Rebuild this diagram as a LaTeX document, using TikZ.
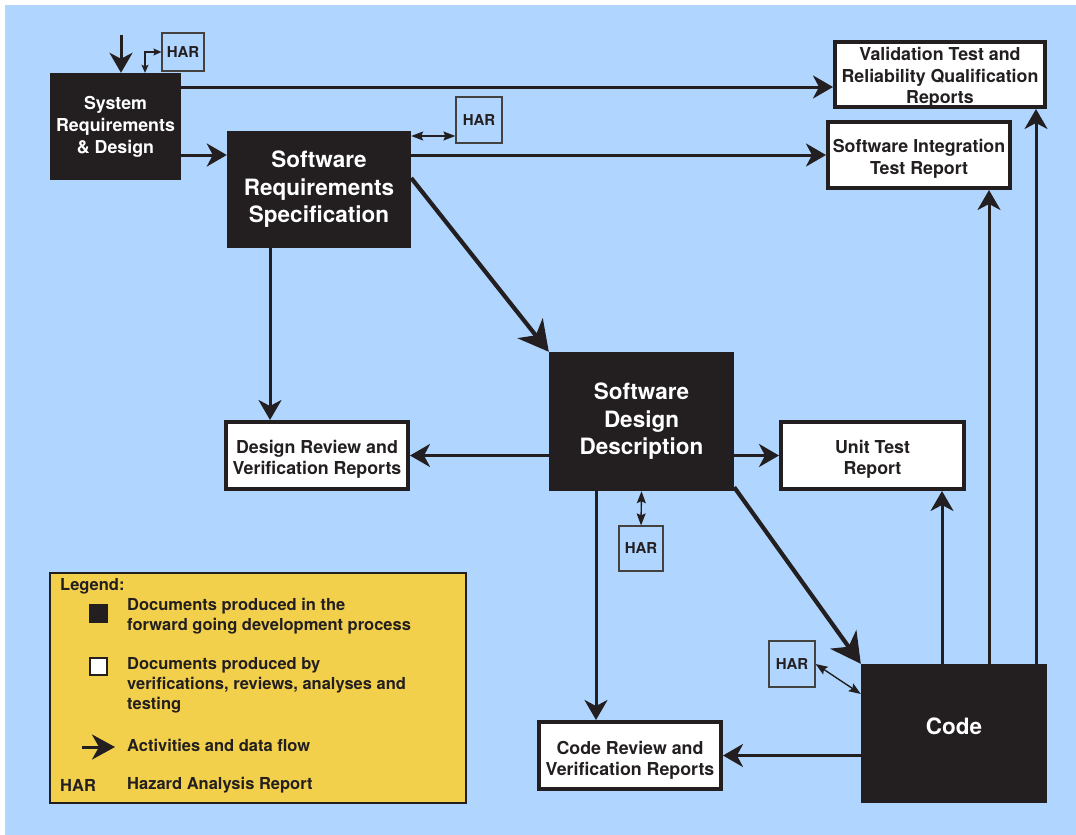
\documentclass[tikz,border=0pt]{standalone}
\usepackage{fontspec}
\setmainfont{TeX Gyre Heros}
\usetikzlibrary{arrows.meta}
\definecolor{sky}{RGB}{176,214,255}
\definecolor{ink}{RGB}{35,31,32}
\definecolor{legendfill}{RGB}{242,208,76}

\begin{document}
\begin{tikzpicture}[x=1pt,y=-1pt,
  docfwd/.style={fill=ink, draw=none, text=white, align=center, inner sep=0pt},
  fwdsmall/.style={docfwd, font=\fontsize{17.8}{22}\selectfont\bfseries},
  fwdbig/.style={docfwd, font=\fontsize{22.5}{27.5}\selectfont\bfseries},
  fwdlabel/.style={text=white, align=center, inner sep=0pt, font=\fontsize{22.5}{27.5}\selectfont\bfseries},
  docver/.style={fill=white, draw=ink, line width=4pt, inner sep=0pt},
  vertext/.style={text=ink, align=center, inner sep=0pt, font=\fontsize{17.8}{21.5}\selectfont\bfseries},
  harbox/.style={draw=ink!85, line width=1.2pt, text=ink, inner sep=0pt,
    font=\fontsize{15}{15}\selectfont\bfseries},
  flow/.style={draw=ink, line width=3pt, -{Stealth[length=20pt,width=23pt,inset=6pt]}},
  bigflow/.style={draw=ink, line width=4.2pt, -{Stealth[length=30pt,width=32pt,inset=9pt]}},
  harlink/.style={draw=ink, line width=1.4pt,
    {Stealth[length=12pt,width=9pt,inset=2pt]}-{Stealth[length=12pt,width=9pt,inset=2pt]}},
  harlinksmall/.style={draw=ink, line width=1.2pt,
    {Stealth[length=8pt,width=7pt,inset=1.5pt]}-{Stealth[length=8pt,width=7pt,inset=1.5pt]}},
  legtext/.style={text=ink, inner sep=0pt, align=left, font=\fontsize{16.5}{20}\selectfont\bfseries},
]
% canvas
\useasboundingbox (0,0) rectangle (1076,835);
\fill[white] (0,0) rectangle (1076,835);
\fill[sky] (5,5) rectangle (1076,835);

% forward-going documents
\node[fwdsmall, minimum width=131pt, minimum height=107pt] (sys) at (115.5,126.5) {System\\Requirements\\\& Design};
\node[fwdbig, minimum width=184pt, minimum height=117pt] (srs) at (319,189.5) {Software\\Requirements\\Specification};
\node[fwdbig, minimum width=185pt, minimum height=139pt] (sdd) at (641.5,421.5) {Software\\Design\\Description};
\node[fwdbig, minimum width=186pt, minimum height=139pt] (code) at (954,733.5) {};
\node[fwdlabel] (codet) at ([yshift=7pt]code.center) {Code};

% verification documents
\node[docver, minimum width=210pt, minimum height=65pt] (val) at (940,74.5) {};
\node[docver, minimum width=182pt, minimum height=66pt] (si) at (919,155) {};
\node[docver, minimum width=182pt, minimum height=67pt] (dr) at (317,455.5) {};
\node[docver, minimum width=183pt, minimum height=67pt] (ut) at (872.5,455.5) {};
\node[docver, minimum width=182pt, minimum height=67pt] (cr) at (630,755.5) {};
\node[vertext] (valt) at ([yshift=-3pt]val.center) {Validation Test and\\Reliability Qualification\\Reports};
\node[vertext] (sit) at ([yshift=-4pt]si.center) {Software Integration\\Test Report};
\node[vertext] (drt) at ([yshift=-4pt]dr.center) {Design Review and\\Verification Reports};
\node[vertext] (utt) at ([yshift=-4pt]ut.center) {Unit Test\\Report};
\node[vertext] (crt) at ([yshift=-5pt]cr.center) {Code Review and\\Verification Reports};

% hazard analysis reports
\node[harbox, minimum width=42pt, minimum height=38pt] (har1) at (183,52) {HAR};
\node[harbox, minimum width=46pt, minimum height=46pt] (har2) at (479,120) {HAR};
\node[harbox, minimum width=44pt, minimum height=45pt] (har3) at (641,548.5) {HAR};
\node[harbox, minimum width=46pt, minimum height=46pt] (har4) at (792,664) {HAR};

% connector end points
\coordinate (inp) at (121,35);
\coordinate (s1) at ([yshift=39.5pt]sys.east);
\coordinate (s2) at ([yshift=-28.5pt]sys.east);
\coordinate (r1) at ([xshift=-49pt]srs.south);
\coordinate (r2) at ([yshift=11.5pt]srs.east);
\coordinate (r3) at ([yshift=53.5pt]srs.east);
\coordinate (d1) at ([xshift=-45.5pt]sdd.south);
\coordinate (d2) at ([yshift=4pt]sdd.south east);
\coordinate (c1) at ([xshift=-12pt]code.north);
\coordinate (c2) at ([xshift=35pt]code.north);
\coordinate (c3) at ([xshift=82pt]code.north);
\coordinate (c4) at ([yshift=39.5pt]code.west);
\coordinate (h1) at ([xshift=29.5pt]sys.north);

% activities and data flow
\draw[flow] (inp) -- (inp |- sys.north);
\draw[flow] (s1) -- (s1 -| val.west);
\draw[flow] (s2) -- (s2 -| srs.west);
\draw[flow] (srs.east |- si.west) -- (si.west);
\draw[flow] (r1) -- (r1 |- dr.north);
\draw[bigflow] (r2) -- (sdd.north west);
\draw[flow] (sdd.west |- dr.east) -- (dr.east);
\draw[flow] (sdd.east |- ut.west) -- (ut.west);
\draw[flow] (d1) -- (d1 |- cr.north);
\draw[bigflow] (d2) -- (code.north west);
\draw[flow] (code.west |- cr.east) -- (cr.east);
\draw[flow] (c1) -- (c1 |- ut.south);
\draw[flow] (c2) -- (c2 |- si.south);
\draw[flow] (c3) -- (c3 |- val.south);

% hazard analysis links
\draw[harlinksmall] (h1) |- (har1.west);
\draw[harlink] (r3) -- (r3 -| har2.west);
\draw[harlink] (sdd.south) -- (har3.north);
\draw[harlink] (har4.east) -- (c4);

% legend
\node[draw=ink, line width=2pt, fill=legendfill, minimum width=416pt, minimum height=230pt, inner sep=0pt] (legend) at (258,688) {};
\node[legtext, anchor=west] (lgtitle) at (60,586) {Legend:};
\node[fill=ink, minimum size=19pt, inner sep=0pt] (kfwd) at (98,613) {};
\node[fill=white, draw=ink, line width=2pt, minimum size=17pt, inner sep=0pt] (kver) at (98,666) {};
\node[legtext, anchor=west] (tfwd) at (127,616) {Documents produced in the\\forward going development process};
\node[legtext, anchor=west] (tver) at (127,685) {Documents produced by\\verifications, reviews, analyses and\\testing};
\coordinate (ka) at (82,747);
\coordinate (kb) at (115,747);
\draw[draw=ink, line width=3pt, -{Stealth[length=23pt,width=25pt,inset=7pt]}] (ka) -- (kb);
\node[legtext, anchor=west] (tflow) at (127,745) {Activities and data flow};
\node[legtext, anchor=west] (khar) at (60,785) {HAR};
\node[legtext, anchor=west] (thar) at (127,785) {Hazard Analysis Report};
\end{tikzpicture}
\end{document}
